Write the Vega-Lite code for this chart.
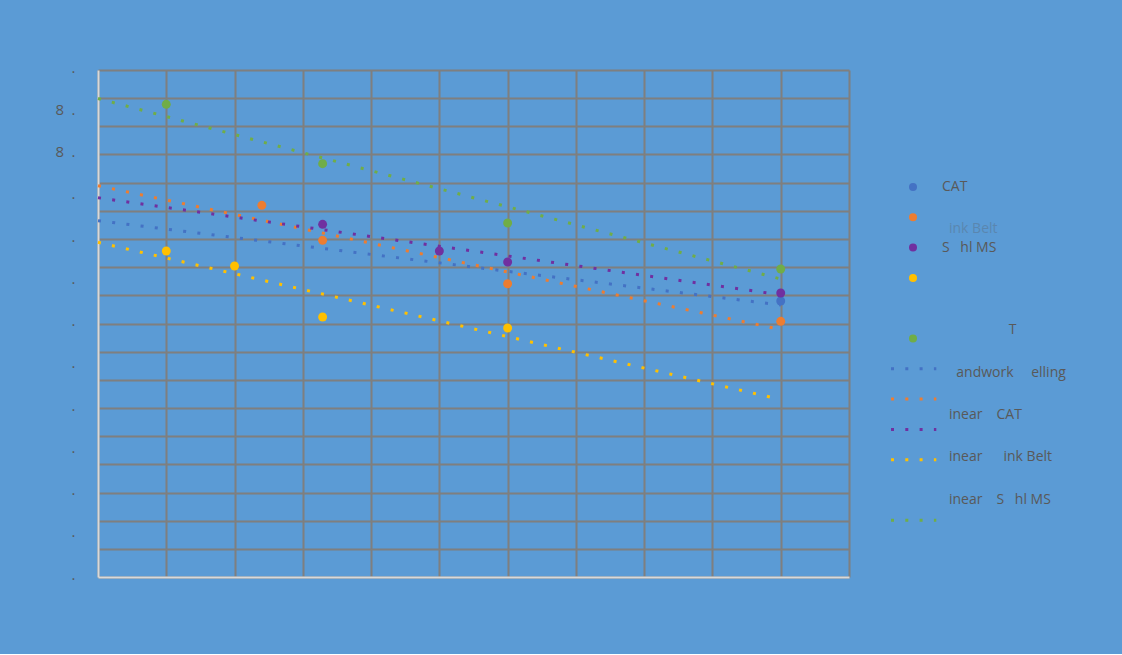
{
  "$schema": "https://vega.github.io/schema/vega-lite/v6.json",
  "background": "#5B9BD5",
  "padding": {"left": 54, "top": 60, "right": 57, "bottom": 72},
  "config": {
    "view": {"stroke": null},
    "font": "Open Sans"
  },
  "datasets": {
    "points": [
      {"series": "CAT", "x": 10, "y": 4.899},
      {"series": "Link Belt", "x": 2.4, "y": 6.598},
      {"series": "Link Belt", "x": 3.29, "y": 5.977},
      {"series": "Link Belt", "x": 6, "y": 5.206},
      {"series": "Link Belt", "x": 10, "y": 4.539},
      {"series": "Stihl MS", "x": 3.29, "y": 6.261},
      {"series": "Stihl MS", "x": 5, "y": 5.787},
      {"series": "Stihl MS", "x": 6, "y": 5.592},
      {"series": "Stihl MS", "x": 10, "y": 5.041},
      {"series": "Sandwork Felling", "x": 1, "y": 5.787},
      {"series": "Sandwork Felling", "x": 2, "y": 5.521},
      {"series": "Sandwork Felling", "x": 3.29, "y": 4.615},
      {"series": "Sandwork Felling", "x": 6, "y": 4.42},
      {"series": "Tigercat", "x": 1, "y": 8.391},
      {"series": "Tigercat", "x": 3.29, "y": 7.337},
      {"series": "Tigercat", "x": 6, "y": 6.284},
      {"series": "Tigercat", "x": 10, "y": 5.467}
    ],
    "trends": [
      {"series": "CAT", "x": 0, "y": 6.325},
      {"series": "CAT", "x": 10, "y": 4.828},
      {"series": "Link Belt", "x": 0, "y": 6.946},
      {"series": "Link Belt", "x": 10, "y": 4.393},
      {"series": "Stihl MS", "x": 0, "y": 6.733},
      {"series": "Stihl MS", "x": 10, "y": 5.009},
      {"series": "Sandwork Felling", "x": 0, "y": 5.941},
      {"series": "Sandwork Felling", "x": 10, "y": 3.151},
      {"series": "Tigercat", "x": 0, "y": 8.494},
      {"series": "Tigercat", "x": 10, "y": 5.29}
    ],
    "legendKeys": [
      {"kind": "marker", "series": "CAT", "row": 0},
      {"kind": "marker", "series": "Link Belt", "row": 1},
      {"kind": "marker", "series": "Stihl MS", "row": 2},
      {"kind": "marker", "series": "Sandwork Felling", "row": 3},
      {"kind": "marker", "series": "Tigercat", "row": 5},
      {"kind": "trend", "series": "CAT", "row": 6},
      {"kind": "trend", "series": "Link Belt", "row": 7},
      {"kind": "trend", "series": "Stihl MS", "row": 8},
      {"kind": "trend", "series": "Sandwork Felling", "row": 9},
      {"kind": "trend", "series": "Tigercat", "row": 11}
    ],
    "legendText": [
      {"label": "CAT", "row": 0},
      {"label": "\u200b\u2002ink Belt", "row": 1.376},
      {"label": "S\u2002\u00a0hl MS", "row": 2.01},
      {"label": "\u200b\u2003\u2003\u2003\u2003\u2002\u00a0T", "row": 4.72},
      {"label": "\u200b\u2002\u00a0\u00a0andwork\u2003\u00a0elling", "row": 6.14},
      {"label": "\u200b\u2002inear\u2003CAT", "row": 7.52},
      {"label": "\u200b\u2002inear\u2003\u2002ink Belt", "row": 8.91},
      {"label": "\u200b\u2002inear\u2003S\u2002\u00a0hl MS", "row": 10.33}
    ]
  },
  "spacing": 20,
  "hconcat": [
    {
      "width": 751,
      "height": 507,
      "layer": [
        {
          "data": {"name": "trends"},
          "mark": {"type": "line", "strokeWidth": 3, "strokeDash": [3, 11.3], "strokeCap": "butt"},
          "encoding": {
            "x": {
              "field": "x", "type": "quantitative",
              "scale": {"domain": [0, 11], "nice": false, "zero": false},
              "axis": {
                "values": [0, 1, 2, 3, 4, 5, 6, 7, 8, 9, 10, 11],
                "grid": true, "gridColor": "#7F7F7F", "gridWidth": 2, "gridOpacity": 1,
                "labels": false, "ticks": false, "tickSize": 0,
                "domain": true, "domainColor": "#D9D9D9", "domainWidth": 2,
                "title": null
              }
            },
            "y": {
              "field": "y", "type": "quantitative",
              "scale": {"domain": [0, 9], "nice": false, "zero": false},
              "axis": {
                "orient": "left",
                "values": [0, 0.5, 1, 1.5, 2, 2.5, 3, 3.5, 4, 4.5, 5, 5.5, 6, 6.5, 7, 7.5, 8, 8.5, 9],
                "grid": true, "gridColor": "#7F7F7F", "gridWidth": 2, "gridOpacity": 1,
                "labels": false, "ticks": false, "tickSize": 0,
                "domain": true, "domainColor": "#D9D9D9", "domainWidth": 2,
                "title": null, "minExtent": 40, "maxExtent": 40
              }
            },
            "color": {
              "field": "series", "type": "nominal",
              "scale": {
                "domain": ["CAT", "Link Belt", "Stihl MS", "Sandwork Felling", "Tigercat"],
                "range": ["#4472C4", "#ED7D31", "#7030A0", "#FFC000", "#70AD47"]
              },
              "legend": null
            }
          }
        },
        {
          "data": {"name": "points"},
          "mark": {"type": "circle", "size": 80, "opacity": 1},
          "encoding": {
            "x": {
              "field": "x", "type": "quantitative",
              "scale": {"domain": [0, 11], "nice": false, "zero": false},
              "axis": {
                "values": [0, 1, 2, 3, 4, 5, 6, 7, 8, 9, 10, 11],
                "grid": true, "gridColor": "#7F7F7F", "gridWidth": 2, "gridOpacity": 1,
                "labels": false, "ticks": false, "tickSize": 0,
                "domain": true, "domainColor": "#D9D9D9", "domainWidth": 2,
                "title": null
              }
            },
            "y": {
              "field": "y", "type": "quantitative",
              "scale": {"domain": [0, 9], "nice": false, "zero": false},
              "axis": {
                "orient": "left",
                "values": [0, 0.75, 1.5, 2.25, 3, 3.75, 4.5, 5.25, 6, 6.75, 7.5, 8.25, 9],
                "grid": false, "ticks": false, "tickSize": 0, "domain": false,
                "labelExpr": "datum.value == 8.25 || datum.value == 7.5 ? '8\u2002.' : '.'",
                "labelFont": "Open Sans", "labelFontSize": 15, "labelColor": "#595959",
                "labelPadding": 23, "labelAlign": "right", "labelBaseline": "alphabetic",
                "labelOffset": 2, "labelFlush": false, "labelOverlap": false,
                "title": null, "minExtent": 40, "maxExtent": 40
              }
            },
            "color": {
              "field": "series", "type": "nominal",
              "scale": {
                "domain": ["CAT", "Link Belt", "Stihl MS", "Sandwork Felling", "Tigercat"],
                "range": ["#4472C4", "#ED7D31", "#7030A0", "#FFC000", "#70AD47"]
              },
              "legend": null
            }
          }
        }
      ],
      "resolve": {"axis": {"y": "independent"}}
    },
    {
      "width": 200,
      "height": 507,
      "layer": [
        {
          "data": {"name": "legendKeys"},
          "transform": [{"filter": "datum.kind == 'marker'"}],
          "mark": {"type": "circle", "size": 64, "opacity": 1},
          "encoding": {
            "x": {"datum": 4.4, "type": "quantitative", "scale": {"domain": [0, 20], "nice": false, "zero": false}, "axis": null},
            "y": {"field": "row", "type": "quantitative", "scale": {"domain": [-3.861, 12.871], "nice": false, "zero": false, "reverse": true}, "axis": null},
            "color": {
              "field": "series", "type": "nominal",
              "scale": {
                "domain": ["CAT", "Link Belt", "Stihl MS", "Sandwork Felling", "Tigercat"],
                "range": ["#4472C4", "#ED7D31", "#7030A0", "#FFC000", "#70AD47"]
              },
              "legend": null
            }
          }
        },
        {
          "data": {"name": "legendKeys"},
          "transform": [{"filter": "datum.kind == 'trend'"}],
          "mark": {"type": "rule", "strokeWidth": 3, "strokeDash": [3, 11.3], "strokeCap": "butt"},
          "encoding": {
            "x": {"datum": 2.2, "type": "quantitative", "scale": {"domain": [0, 20], "nice": false, "zero": false}, "axis": null},
            "x2": {"datum": 6.73},
            "y": {"field": "row", "type": "quantitative", "scale": {"domain": [-3.861, 12.871], "nice": false, "zero": false, "reverse": true}, "axis": null},
            "color": {
              "field": "series", "type": "nominal",
              "scale": {
                "domain": ["CAT", "Link Belt", "Stihl MS", "Sandwork Felling", "Tigercat"],
                "range": ["#4472C4", "#ED7D31", "#7030A0", "#FFC000", "#70AD47"]
              },
              "legend": null
            }
          }
        },
        {
          "data": {"name": "legendText"},
          "mark": {"type": "text", "align": "left", "baseline": "middle", "font": "Open Sans", "fontSize": 14, "color": "#595959"},
          "encoding": {
            "x": {"datum": 7.3, "type": "quantitative", "scale": {"domain": [0, 20], "nice": false, "zero": false}, "axis": null},
            "y": {"field": "row", "type": "quantitative", "scale": {"domain": [-3.861, 12.871], "nice": false, "zero": false, "reverse": true}, "axis": null},
            "text": {"field": "label"},
            "opacity": {"condition": {"test": "datum.row > 1 && datum.row < 2", "value": 0.3}, "value": 1}
          }
        }
      ]
    }
  ]
}
